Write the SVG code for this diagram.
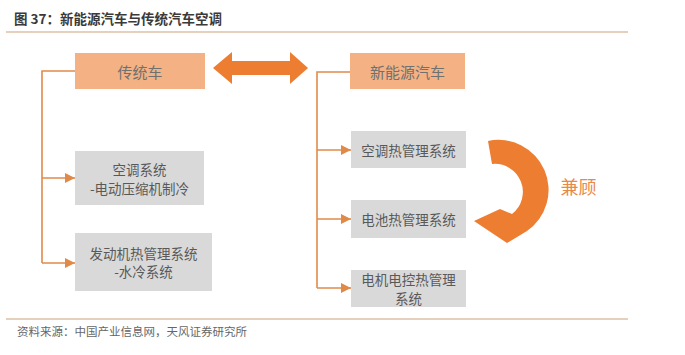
<svg xmlns="http://www.w3.org/2000/svg" width="685" height="355" viewBox="0 0 685 355">
<defs>
<style>
.t{font-family:"Noto Sans CJK SC","Noto Sans",sans-serif;}
.hdr{fill:#F4B183;}
.gbox{fill:#D9D9D9;}
.ht{font-size:15px;fill:#707070;text-anchor:middle;dominant-baseline:central;}
.bt{font-size:13.5px;fill:#595959;text-anchor:middle;dominant-baseline:central;}
.conn{fill:none;stroke:#E08A4A;stroke-width:1.6;}
.rule{stroke:#C9A27A;stroke-width:1.2;}
</style>
<marker id="ah" viewBox="0 0 10 10" refX="10" refY="5" markerWidth="12" markerHeight="10" markerUnits="userSpaceOnUse" orient="auto">
<path d="M0,0 L10,5 L0,10 Z" fill="#E08A4A"/>
</marker>
</defs>
<rect width="685" height="355" fill="#FFFFFF"/>
<text class="t" x="14" y="24" font-size="13.5" font-weight="bold" fill="#3a3a3a">图 37：新能源汽车与传统汽车空调</text>
<line class="rule" x1="6" y1="32" x2="628" y2="32"/>
<line class="rule" x1="6" y1="319" x2="628" y2="319"/>
<text class="t" x="17" y="336" font-size="11.5" fill="#666666">资料来源：中国产业信息网，天风证券研究所</text>

<g id="connectors">
<path class="conn" d="M76,71 H42 V263"/>
<path class="conn" d="M42,178 H75" marker-end="url(#ah)"/>
<path class="conn" d="M42,263 H75" marker-end="url(#ah)"/>
<path class="conn" d="M350,72 H317 V288"/>
<path class="conn" d="M317,150 H351" marker-end="url(#ah)"/>
<path class="conn" d="M317,219 H351" marker-end="url(#ah)"/>
<path class="conn" d="M317,288 H351" marker-end="url(#ah)"/>
<path id="double-arrow" d="M213,68 L232,52 L232,61 L290,61 L290,52 L308,68 L290,84 L290,75 L232,75 L232,84 Z" fill="#ED7D31"/>
<path id="curve-arrow" d="M488,141 A50,50 0 0 1 527,231 L507,243 L474,221 L500,209 L512,214 A28,28 0 0 0 492,164 Z" fill="#ED7D31"/>
</g>

<g id="n-traditional">
<rect class="hdr" x="75" y="53" width="130" height="36"/>
<text class="t ht" x="140" y="71">传统车</text>
</g>
<g id="n-nev">
<rect class="hdr" x="350" y="53" width="115" height="36"/>
<text class="t ht" x="407.5" y="71">新能源汽车</text>
</g>
<g id="n-ac">
<rect class="gbox" x="75" y="151" width="129" height="54"/>
<text class="t bt" x="139.5" y="169">空调系统</text>
<text class="t bt" x="139.5" y="187.5">-电动压缩机制冷</text>
</g>
<g id="n-engine">
<rect class="gbox" x="75" y="233" width="137" height="58"/>
<text class="t bt" x="143.5" y="252.5">发动机热管理系统</text>
<text class="t bt" x="143.5" y="271">-水冷系统</text>
</g>
<g id="n-ac-tms">
<rect class="gbox" x="351" y="131" width="115" height="37"/>
<text class="t bt" x="408.5" y="149.5">空调热管理系统</text>
</g>
<g id="n-battery">
<rect class="gbox" x="351" y="200" width="115" height="38"/>
<text class="t bt" x="408.5" y="219">电池热管理系统</text>
</g>
<g id="n-motor">
<rect class="gbox" x="351" y="270" width="115" height="37"/>
<text class="t bt" x="408.5" y="279">电机电控热管理</text>
<text class="t bt" x="408.5" y="297.5">系统</text>
</g>
<g id="n-label">
<text class="t" x="578.5" y="186" font-size="18" fill="#E8894A" text-anchor="middle" dominant-baseline="central">兼顾</text>
</g>
</svg>
